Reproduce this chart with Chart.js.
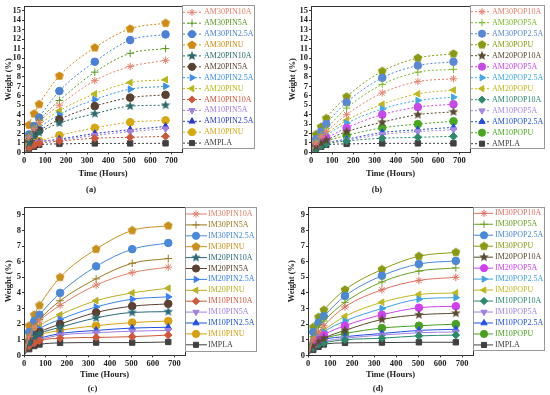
<!DOCTYPE html>
<html>
<head>
<meta charset="utf-8">
<script src="https://cdn.jsdelivr.net/npm/chart.js@4.4.1/dist/chart.umd.min.js"></script>
<style>
html,body{margin:0;padding:0;background:#fff}
.painel{position:absolute}
</style>
</head>
<body>
<div class="painel" style="left:0;top:0"><canvas id="ga" width="275" height="200"></canvas></div>
<div class="painel" style="left:275px;top:0"><canvas id="gb" width="275" height="200"></canvas></div>
<div class="painel" style="left:0;top:200px"><canvas id="gc" width="275" height="195"></canvas></div>
<div class="painel" style="left:275px;top:200px"><canvas id="gd" width="275" height="195"></canvas></div>
<script>
const horas=[0,24,48,72,168,336,504,672]

const ticksX=[0,100,200,300,400,500,600,700]
const ticksYSup=[0,1,2,3,4,5,6,7,8,9,10,11,12,13,14,15]
const ticksYInf=[0,1,2,3,4,5,6,7,8,9]

const marcadores=['star','cross','circle','pentagono','estrela','circle','dir','esq','rectRot','baixo','cima','circle','rect']

const rotulosA=['AM30PIN10A','AM30PIN5A','AM30PIN2.5A','AM30PINU','AM20PIN10A','AM20PIN5A','AM20PIN2.5A','AM20PINU','AM10PIN10A','AM10PIN5A','AM10PIN2.5A','AM10PINU','AMPLA']
const coresA=['#e8806a','#5a9a20','#4a80d8','#d08a10','#2a6a6a','#5a4030','#3a90e8','#b8b818','#d05838','#a080e0','#2838d0','#d8a810','#404040']
const valoresA=[
[0,1.6,2.5,3.2,5.0,7.6,9.1,9.75],
[0,1.8,2.7,3.4,5.5,8.5,10.5,11.0],
[0,1.9,2.8,3.7,6.5,9.6,11.9,12.5],
[0,2.9,4.1,5.1,8.1,11.1,13.1,13.7],
[0,1.0,1.7,2.1,3.1,4.1,4.9,5.0],
[0,1.2,1.9,2.3,3.5,4.9,5.8,6.1],
[0,1.4,2.1,2.6,4.0,5.6,6.7,7.0],
[0,1.6,2.3,2.9,4.4,6.2,7.4,7.7],
[0,0.5,0.8,0.95,1.2,1.5,1.6,1.7],
[0,0.6,0.9,1.1,1.3,1.8,2.2,2.5],
[0,0.6,0.9,1.1,1.4,2.0,2.4,2.75],
[0,0.7,1.0,1.2,1.8,2.6,3.2,3.4],
[0,0.4,0.6,0.8,0.9,0.95,0.95,0.96]
]

const rotulosB=['AM30POP10A','AM30POP5A','AM30POP2.5A','AM30POPU','AM20POP10A','AM20POP5A','AM20POP2.5A','AM20POPU','AM10POP10A','AM10POP5A','AM10POP2.5A','AM10POPU','AMPLA']
const coresB=['#e8806a','#7ab828','#5a88d8','#8a9a10','#5a4a30','#c848e8','#40a8e8','#c0b820','#2a8a6a','#a888e8','#2050e8','#48a820','#404040']
const valoresB=[
[0,1.0,1.7,2.2,4.0,6.3,7.5,7.8],
[0,1.2,1.9,2.5,4.7,7.2,8.5,8.8],
[0,1.4,2.2,3.0,5.3,7.9,9.2,9.6],
[0,1.9,2.7,3.6,5.9,8.6,10.0,10.45],
[0,0.6,1.0,1.3,2.2,3.2,4.0,4.3],
[0,0.8,1.2,1.5,2.6,4.0,4.8,5.1],
[0,0.9,1.4,1.8,3.1,4.6,5.5,5.85],
[0,1.0,1.6,2.0,3.4,5.1,6.2,6.6],
[0,0.4,0.7,0.9,1.2,1.5,1.6,1.7],
[0,0.5,0.8,1.0,1.3,1.9,2.2,2.4],
[0,0.5,0.8,1.0,1.4,2.1,2.4,2.65],
[0,0.6,1.0,1.2,1.8,2.6,3.0,3.3],
[0,0.4,0.6,0.8,0.9,0.95,0.96,0.96]
]

const rotulosC=['IM30PIN10A','IM30PIN5A','IM30PIN2.5A','IM30PINU','IM20PIN10A','IM20PIN5A','IM20PIN2.5A','IM20PINU','IM10PIN10A','IM10PIN5A','IM10PIN2.5A','IM10PINU','IMPLA']
const coresC=['#e0806a','#9a7a20','#4a88d8','#c8901a','#2a6a7a','#5a4030','#3a80f0','#b8b020','#d05838','#a080e0','#2050e0','#d8a010','#404040']
const valoresC=[
[0,1.2,1.8,2.2,3.2,4.5,5.3,5.65],
[0,1.3,1.9,2.3,3.5,4.9,5.9,6.2],
[0,1.5,2.2,2.6,4.0,5.7,6.8,7.2],
[0,1.9,2.6,3.2,5.0,6.8,8.0,8.3],
[0,0.8,1.2,1.4,1.8,2.4,2.75,2.8],
[0,0.9,1.3,1.5,2.0,2.75,3.15,3.3],
[0,1.0,1.4,1.7,2.3,3.1,3.6,3.75],
[0,1.1,1.6,1.9,2.6,3.5,4.0,4.3],
[0,0.6,0.8,0.95,1.1,1.15,1.2,1.3],
[0,0.7,0.9,1.0,1.3,1.45,1.55,1.6],
[0,0.7,1.0,1.1,1.4,1.6,1.75,1.8],
[0,0.8,1.1,1.3,1.6,1.9,2.1,2.2],
[0,0.4,0.6,0.7,0.8,0.82,0.82,0.86]
]

const rotulosD=['IM30POP10A','IM30POP5A','IM30POP2.5A','IM30POPU','IM20POP10A','IM20POP5A','IM20POP2.5A','IM20POPU','IM10POP10A','IM10POP5A','IM10POP2.5A','IM10POPU','IMPLA']
const coresD=['#e07060','#6aa020','#4a88d8','#8a9a10','#5a4a30','#d040f0','#40a0e0','#c0b820','#2a8a6a','#a080e0','#2050e8','#48a020','#404040']
const valoresD=[
[0,1.0,1.5,1.9,3.1,4.2,4.8,5.0],
[0,1.2,1.8,2.2,3.4,4.7,5.4,5.6],
[0,1.5,2.1,2.5,3.8,5.1,5.85,6.05],
[0,1.8,2.45,2.9,4.2,5.5,6.35,6.6],
[0,0.6,0.9,1.1,1.6,2.3,2.6,2.7],
[0,0.7,1.0,1.3,1.9,2.6,3.05,3.15],
[0,0.8,1.2,1.5,2.2,3.0,3.6,3.7],
[0,0.9,1.3,1.6,2.5,3.4,3.9,4.0],
[0,0.5,0.7,0.8,1.0,1.1,1.25,1.3],
[0,0.5,0.8,0.9,1.1,1.3,1.45,1.5],
[0,0.6,0.8,1.0,1.2,1.4,1.6,1.67],
[0,0.7,1.0,1.1,1.4,1.75,1.9,2.0],
[0,0.35,0.55,0.7,0.8,0.82,0.84,0.84]
]

const fonteB={family:'Liberation Serif',weight:'bold',size:8.5}

function forma(tipo,cor){
let c=document.createElement('canvas')
c.width=10
c.height=10
let g=c.getContext('2d')
g.fillStyle=cor
g.beginPath()
let n=tipo==='pentagono'?5:10
for(let i=0;i<n;i++){
let ang=-Math.PI/2+i*2*Math.PI/n
let r=tipo==='pentagono'?4.6:(i%2?2.2:5)
g.lineTo(5+r*Math.cos(ang),5+r*Math.sin(ang))
}
g.closePath()
g.fill()
return c
}

function estiloPonto(m,cor){
if(m==='pentagono'||m==='estrela')return{estilo:forma(m,cor),rot:0}
if(m==='dir')return{estilo:'triangle',rot:90}
if(m==='esq')return{estilo:'triangle',rot:-90}
if(m==='baixo')return{estilo:'triangle',rot:180}
if(m==='cima')return{estilo:'triangle',rot:0}
return{estilo:m,rot:0}
}

function montarDatasets(rotulos,valores,cores,tracejado){
return rotulos.map((r,i)=>{
let e=estiloPonto(marcadores[i],cores[i])
return{
label:r,
data:horas.map((h,j)=>({x:h,y:valores[i][j]})),
borderColor:cores[i],
backgroundColor:cores[i],
pointBackgroundColor:cores[i],
pointBorderColor:cores[i],
pointStyle:e.estilo,
pointRotation:e.rot,
pointRadius:horas.map(h=>h===0?0:3.8),
pointBorderWidth:1,
borderWidth:1,
borderDash:tracejado?[2,2]:[],
cubicInterpolationMode:'monotone',
fill:false
}
})
}

const moldura={
id:'moldura',
afterDatasetsDraw(chart){
let a=chart.chartArea
let ctx=chart.ctx
ctx.save()
ctx.strokeStyle='#333'
ctx.lineWidth=1
ctx.strokeRect(Math.round(a.left)+0.5,Math.round(a.top)+0.5,Math.round(a.width),Math.round(a.height))
ctx.restore()
}
}

const legendaCaixa={
id:'legendaCaixa',
afterDraw(chart,args,o){
let ctx=chart.ctx
let x0=Math.round(chart.chartArea.right)
ctx.save()
ctx.strokeStyle='#999'
ctx.lineWidth=1
ctx.strokeRect(x0+0.5,o.topo+0.5,o.largura,o.base-o.topo)
chart.data.datasets.forEach((ds,i)=>{
let y=o.primeiro+i*o.passo
ctx.strokeStyle=ds.borderColor
ctx.lineWidth=1
ctx.setLineDash(ds.borderDash)
ctx.beginPath()
ctx.moveTo(x0+1,y)
ctx.lineTo(x0+o.linha,y)
ctx.stroke()
ctx.setLineDash([])
ctx.fillStyle=ds.pointBackgroundColor
Chart.helpers.drawPoint(ctx,{pointStyle:ds.pointStyle,rotation:ds.pointRotation,radius:3.6,borderWidth:1},x0+o.marca,y)
ctx.fillStyle=ds.borderColor
ctx.font='8px "Liberation Serif"'
ctx.textBaseline='middle'
ctx.fillText(ds.label,x0+o.texto,y)
})
ctx.restore()
}
}

function criarGrafico(id,datasets,p){
new Chart(document.getElementById(id),{
type:'line',
data:{datasets:datasets},
options:{
responsive:false,
animation:false,
devicePixelRatio:1,
layout:{padding:{top:p.topo,right:p.direita,left:p.esquerda,bottom:p.base}},
plugins:{
legend:{display:false},
tooltip:{enabled:false},
title:{display:true,position:'bottom',text:p.letra,color:'#222',font:fonteB,padding:0},
legendaCaixa:p.legenda
},
scales:{
x:{
type:'linear',
min:0,
max:750,
afterBuildTicks:s=>{s.ticks=ticksX.map(v=>({value:v}))},
ticks:{padding:1,color:'#222',font:fonteB,maxRotation:0,autoSkip:false},
grid:{drawOnChartArea:false,tickLength:2,color:'#333'},
border:{color:'#333'},
title:{display:true,text:'Time (Hours)',color:'#222',font:fonteB,padding:{top:p.tituloTopo,bottom:p.tituloBase}}
},
y:{
min:0,
max:p.ymax,
afterBuildTicks:s=>{s.ticks=p.ticksY.map(v=>({value:v}))},
afterFit:s=>{s.width=p.largY},
ticks:{padding:1,color:'#222',font:fonteB,autoSkip:false},
grid:{drawOnChartArea:false,tickLength:2,color:'#333'},
border:{color:'#333'},
title:{display:true,text:'Weight (%)',color:'#222',font:fonteB,padding:{top:4,bottom:0}}
}
}
},
plugins:[moldura,legendaCaixa]
})
}

criarGrafico('ga',montarDatasets(rotulosA,valoresA,coresA,true),{
topo:6,direita:93,esquerda:0,base:5,largY:24,ymax:15.5,ticksY:ticksYSup,letra:'(a)',tituloTopo:2,tituloBase:6,
legenda:{topo:5,base:148,largura:72,primeiro:12.3,passo:10.9,linha:20,marca:10,texto:22}
})

criarGrafico('gb',montarDatasets(rotulosB,valoresB,coresB,true),{
topo:6,direita:80,esquerda:9,base:5,largY:27,ymax:15.5,ticksY:ticksYSup,letra:'(b)',tituloTopo:2,tituloBase:6,
legenda:{topo:5,base:148,largura:74,primeiro:11.7,passo:11,linha:20,marca:12,texto:22}
})

criarGrafico('gc',montarDatasets(rotulosC,valoresC,coresC,false),{
topo:7,direita:90,esquerda:0,base:1,largY:24,ymax:9.5,ticksY:ticksYInf,letra:'(c)',tituloTopo:0,tituloBase:4,
legenda:{topo:7,base:151,largura:71,primeiro:14,passo:10.9,linha:22,marca:11,texto:23}
})

criarGrafico('gd',montarDatasets(rotulosD,valoresD,coresD,false),{
topo:7,direita:77,esquerda:8,base:1,largY:25,ymax:9.5,ticksY:ticksYInf,letra:'(d)',tituloTopo:0,tituloBase:4,
legenda:{topo:7,base:150,largura:71,primeiro:13.3,passo:10.97,linha:20,marca:11,texto:22}
})
</script>
</body>
</html>
